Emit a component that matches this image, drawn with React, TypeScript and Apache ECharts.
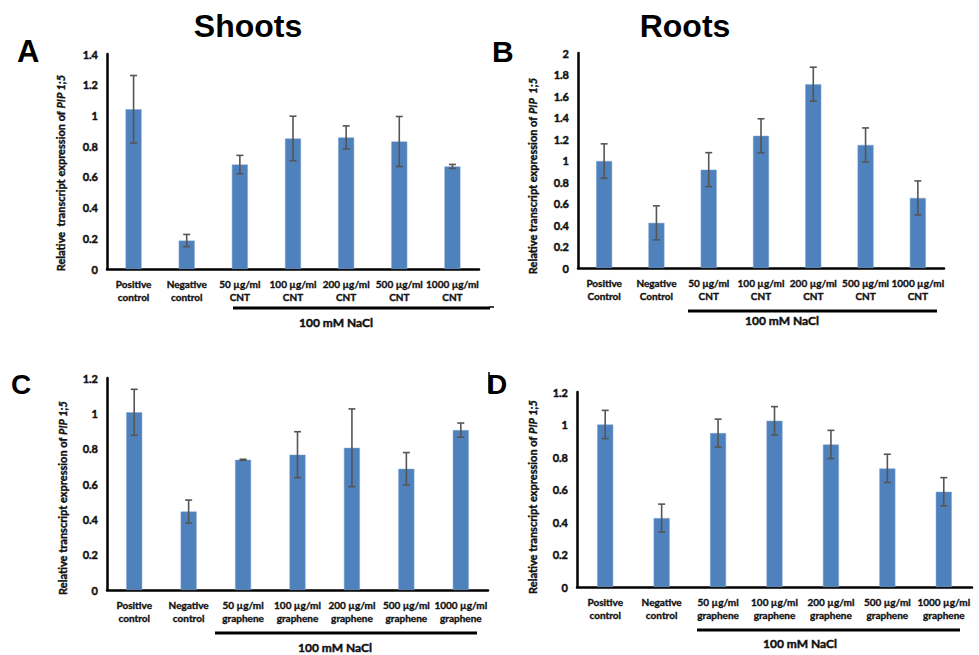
import React, { useEffect, useRef } from "react";
import * as echarts from "echarts";

const catsShootsCNT = ["Positive\ncontrol", "Negative\ncontrol", "50 µg/ml\nCNT", "100 µg/ml\nCNT", "200 µg/ml\nCNT", "500 µg/ml\nCNT", "1000 µg/ml\nCNT"];
const catsRootsCNT = ["Positive\nControl", "Negative\nControl", "50 µg/ml\nCNT", "100 µg/ml\nCNT", "200 µg/ml\nCNT", "500 µg/ml\nCNT", "1000 µg/ml\nCNT"];
const catsGraphene = ["Positive\ncontrol", "Negative\ncontrol", "50 µg/ml\ngraphene", "100 µg/ml\ngraphene", "200 µg/ml\ngraphene", "500 µg/ml\ngraphene", "1000 µg/ml\ngraphene"];

const valuesA = [1.04, 0.185, 0.68, 0.85, 0.857, 0.83, 0.668];
const errorsA = [0.22, 0.04, 0.06, 0.145, 0.075, 0.163, 0.013];
const valuesB = [0.995, 0.42, 0.915, 1.23, 1.71, 1.145, 0.652];
const errorsB = [0.16, 0.158, 0.158, 0.158, 0.158, 0.158, 0.158];
const valuesC = [1.006, 0.444, 0.737, 0.766, 0.805, 0.686, 0.905];
const errorsC = [0.13, 0.065, 0.003, 0.13, 0.22, 0.092, 0.04];
const valuesD = [1.0, 0.424, 0.947, 1.023, 0.877, 0.73, 0.586];
const errorsD = [0.087, 0.086, 0.086, 0.087, 0.087, 0.087, 0.087];

const yMaxes = [1.4, 2, 1.2, 1.2];
const panelLetters = ["A", "B", "C", "D"];
const columnTitles = ["Shoots", "Roots"];
const yTitle = ["{n|Relative  transcript expression of }{i|PIP 1;5}", "{n|Relative transcript expression of }{i|PIP  1;5}", "{n|Relative transcript expression of }{i|PIP 1;5}", "{n|Relative transcript expression of }{i|PIP 1;5}"];
const saltLabel = "100 mM NaCl";

const FONT = "Lato, 'Open Sans', sans-serif";
const BAR = "#4F81BD";
const ERR = "#555555";
const INK = "#111111";

export default function App() {
  const ref = useRef<HTMLDivElement>(null);
  useEffect(() => {
    if (!ref.current) return;
    const chart = echarts.init(ref.current, null, { renderer: "svg" });
    const grids = [
      { left: 107, top: 54, width: 372, height: 215 },
      { left: 578, top: 53, width: 366, height: 215 },
      { left: 107, top: 378, width: 381, height: 212 },
      { left: 577, top: 392, width: 395, height: 195 },
    ];
    const cats = [catsShootsCNT, catsRootsCNT, catsGraphene, catsGraphene];
    const vals = [valuesA, valuesB, valuesC, valuesD];
    const errs = [errorsA, errorsB, errorsC, errorsD];

    const xAxis = grids.map((_, i) => ({
      type: "category",
      gridIndex: i,
      data: cats[i],
      axisLine: { lineStyle: { color: "#000", width: 2.5 } },
      axisTick: { show: false },
      axisLabel: { interval: 0, color: INK, fontFamily: FONT, fontWeight: "bold", fontSize: 10, lineHeight: 13, margin: 8, textBorderColor: INK, textBorderWidth: 0.35 },
    }));
    const yAxis = grids.map((_, i) => ({
      type: "value",
      gridIndex: i,
      min: 0,
      max: yMaxes[i],
      interval: 0.2,
      splitLine: { show: false },
      axisTick: { show: false },
      axisLine: { show: true, lineStyle: { color: "#000", width: 2.5 } },
      axisLabel: {
        color: INK,
        fontFamily: FONT,
        fontWeight: "bold",
        fontSize: 11,
        margin: 9,
        textBorderColor: INK,
        textBorderWidth: 0.45,
        formatter: (v: number) => String(+v.toFixed(1)),
      },
    }));

    const series: any[] = [];
    grids.forEach((_, i) => {
      series.push({
        type: "bar",
        xAxisIndex: i,
        yAxisIndex: i,
        barWidth: 16,
        data: vals[i],
        itemStyle: { color: BAR, borderColor: "#7FA5D3", borderWidth: 0.5 },
      });
      series.push({
        type: "custom",
        xAxisIndex: i,
        yAxisIndex: i,
        z: 5,
        data: vals[i].map((v, k) => [k, v - errs[i][k], v + errs[i][k]]),
        renderItem: (params: any, api: any) => {
          const x = api.value(0);
          const lo = api.coord([x, api.value(1)]);
          const hi = api.coord([x, api.value(2)]);
          const hw = 3.5;
          const st = { stroke: ERR, lineWidth: 1.6 };
          return {
            type: "group",
            children: [
              { type: "line", shape: { x1: hi[0], y1: hi[1], x2: lo[0], y2: lo[1] }, style: st },
              { type: "line", shape: { x1: hi[0] - hw, y1: hi[1], x2: hi[0] + hw, y2: hi[1] }, style: st },
              { type: "line", shape: { x1: lo[0] - hw, y1: lo[1], x2: lo[0] + hw, y2: lo[1] }, style: st },
            ],
          };
        },
      });
    });

    const titleCenters = [[60, 173], [532, 176], [62, 498], [532, 497]];
    const letterPos = [[17, 51, 31], [492, 51, 30], [11, 384, 28], [487, 384, 28]];
    const saltLines = [[233, 490, 308], [688, 937, 311], [215, 477, 633], [697, 960, 630]];
    const saltText = [[336, 322], [782, 320], [335, 647], [800, 643]];

    const graphic: any[] = [];
    graphic.push({ type: "text", x: 248, y: 26, style: { text: columnTitles[0], fontFamily: "'Liberation Sans', Arial, sans-serif", fontWeight: "bold", fontSize: 32, fill: "#000", align: "center", verticalAlign: "middle" } });
    graphic.push({ type: "text", x: 685, y: 26, style: { text: columnTitles[1], fontFamily: "'Liberation Sans', Arial, sans-serif", fontWeight: "bold", fontSize: 32, fill: "#000", align: "center", verticalAlign: "middle" } });
    letterPos.forEach((p, i) => {
      graphic.push({ type: "text", x: p[0], y: p[1], style: { text: panelLetters[i], fontFamily: "'Liberation Sans', Arial, sans-serif", fontWeight: "bold", fontSize: p[2], fill: "#000", align: "left", verticalAlign: "middle" } });
    });
    titleCenters.forEach((c, i) => {
      graphic.push({
        type: "text",
        x: c[0],
        y: c[1],
        rotation: Math.PI / 2,
        style: {
          text: yTitle[i],
          align: "center",
          verticalAlign: "middle",
          rich: {
            n: { fontFamily: FONT, fontWeight: "bold", fontSize: 11, fill: INK, stroke: INK, lineWidth: 0.4 },
            i: { fontFamily: FONT, fontWeight: "bold", fontStyle: "italic", fontSize: 11, fill: INK, stroke: INK, lineWidth: 0.4 },
          },
        },
      });
    });
    saltLines.forEach((l) => {
      graphic.push({ type: "line", shape: { x1: l[0], y1: l[2], x2: l[1], y2: l[2] }, style: { stroke: "#000", lineWidth: 3 } });
    });
    saltText.forEach((t) => {
      graphic.push({ type: "text", x: t[0], y: t[1], style: { text: saltLabel, fontFamily: FONT, fontWeight: "bold", fontSize: 12, fill: INK, stroke: INK, lineWidth: 0.45, align: "center", verticalAlign: "middle" } });
    });
    graphic.push({ type: "line", shape: { x1: 489, y1: 372, x2: 489, y2: 393 }, style: { stroke: "#000", lineWidth: 1.5 } });
    graphic.push({ type: "line", shape: { x1: 489, y1: 307, x2: 494, y2: 307 }, style: { stroke: "#000", lineWidth: 1.5 } });

    chart.setOption({
      animation: false,
      backgroundColor: "#fff",
      grid: grids,
      xAxis,
      yAxis,
      series,
      graphic,
    });
    return () => chart.dispose();
  }, []);
  return <div ref={ref} style={{ position: "fixed", left: 0, top: 0, width: 979, height: 655 }} />;
}
